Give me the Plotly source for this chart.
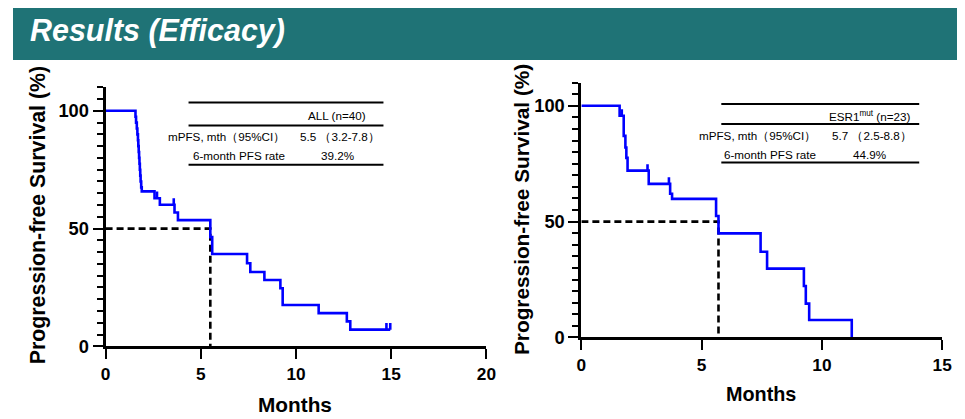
import numpy as np
import plotly.graph_objects as go

# Kaplan-Meier steps (months, % progression-free)
all_times = [1.57, 1.60, 1.64, 1.67, 1.70, 1.72, 1.74, 1.76, 1.78, 1.80, 1.82, 1.84, 1.87, 1.90,
             2.57, 2.85, 3.62, 3.80, 5.50, 5.60, 7.43, 7.60, 8.34, 9.18, 9.30, 11.19, 12.67, 12.85]
all_surv = [97.5, 95.0, 92.5, 90.0, 87.5, 85.0, 82.5, 80.0, 77.5, 75.0, 72.5, 70.0, 67.5, 65.8,
            62.9, 60.1, 56.8, 53.6, 46.4, 39.2, 35.3, 31.6, 28.2, 24.7, 17.6, 14.1, 10.6, 7.1]
all_last = 14.95
all_censor = [2.70, 3.58, 14.75, 14.95]
all_median = 5.5

esr_times = [1.59, 1.76, 1.83, 1.87, 1.92, 2.80, 3.69, 3.77, 5.60, 5.70, 7.45, 7.72,
             9.25, 9.33, 9.47, 11.24]
esr_surv = [95.7, 87.0, 82.0, 77.5, 72.0, 66.3, 62.0, 59.8, 52.4, 44.9, 37.0, 29.7,
            22.2, 14.6, 7.5, 0.0]
esr_last = 11.24
esr_censor = [1.68, 2.75, 3.64]
esr_median = 5.7

# table texts
all_table = ["ALL (n=40)", "mPFS, mth（95%CI）", "5.5 （3.2-7.8）", "6-month PFS rate", "39.2%"]
esr_table = ["ESR1<sup>mut</sup> (n=23)", "mPFS, mth（95%CI）", "5.7 （2.5-8.8）", "6-month PFS rate", "44.9%"]

# page -> photo came out slightly shrunk and shifted, so positions are given in
# photo pixels and mapped back here
PAD = 8
SX, OX = 0.985, 4.5
SY, OY = 0.978, 0.2
FW, FH = 972, 422
K = 1 / SX
FONT = "Liberation Sans, Arial, sans-serif"


def fx(p):
    return ((p - OX) / SX - PAD) / FW


def fy(p):
    return 1 - ((p - OY) / SY - PAD) / FH


def km_traces(times, surv, last, censor, median, xa, ya):
    x = [0] + list(times) + [last]
    y = [100] + list(surv) + [surv[-1]]
    curve = go.Scatter(x=x, y=y, mode="lines", line=dict(color="#0000ff", width=2.6, shape="hv"),
                       xaxis=xa, yaxis=ya, hoverinfo="skip")
    # censor ticks drawn upward from the curve level
    t = np.array([0] + list(times))
    s = np.array([100] + list(surv))
    cx, cy = [], []
    for c in censor:
        lvl = s[np.searchsorted(t, c, side="right") - 1]
        cx += [c, c, None]
        cy += [lvl, lvl + 2.8, None]
    ticks = go.Scatter(x=cx, y=cy, mode="lines", line=dict(color="#0000ff", width=2.6),
                       xaxis=xa, yaxis=ya, hoverinfo="skip")
    med = go.Scatter(x=[0, median, median], y=[50, 50, 0], mode="lines",
                     line=dict(color="black", width=2.6, dash="7px,4px"),
                     xaxis=xa, yaxis=ya, hoverinfo="skip")
    return [med, curve, ticks]


fig = go.Figure()
for tr in km_traces(all_times, all_surv, all_last, all_censor, all_median, "x", "y"):
    fig.add_trace(tr)
for tr in km_traces(esr_times, esr_surv, esr_last, esr_censor, esr_median, "x2", "y2"):
    fig.add_trace(tr)

xcommon = dict(showgrid=False, zeroline=False, showline=True, linecolor="black", linewidth=3,
               ticks="outside", ticklen=10, tickwidth=2, tickcolor="black", dtick=5, tick0=0,
               tickfont=dict(family=FONT, size=17 * K, color="black", weight="bold"))
ycommon = dict(showgrid=False, zeroline=False, showline=True, linecolor="black", linewidth=3,
               ticks="outside", ticklen=10, tickwidth=2, tickcolor="black", dtick=50, tick0=0,
               range=[0, 110],
               minor=dict(dtick=5, tick0=0, ticks="outside", ticklen=6, tickwidth=2, tickcolor="black"),
               tickfont=dict(family=FONT, size=18 * K, color="black", weight="bold"))

fig.update_layout(
    width=FW, height=FH,
    margin=dict(l=0, r=0, t=0, b=0),
    paper_bgcolor="white", plot_bgcolor="white",
    showlegend=False,
    xaxis=dict(xcommon, domain=[fx(105), fx(486)], range=[0, 20], anchor="y"),
    yaxis=dict(ycommon, domain=[fy(347), fy(87.4)], anchor="x"),
    xaxis2=dict(xcommon, domain=[fx(581), fx(942)], range=[0, 15], anchor="y2"),
    yaxis2=dict(ycommon, domain=[fy(338), fy(82.8)], anchor="x2"),
)

# header banner
fig.add_shape(type="rect", xref="paper", yref="paper", x0=0, x1=fx(963), y0=fy(60), y1=1,
              fillcolor="#1f7376", line=dict(width=0), layer="below")
fig.add_annotation(x=fx(27), y=fy(31), xref="paper", yref="paper", xanchor="left", yanchor="middle",
                   text="<b><i>Results (Efficacy)</i></b>", showarrow=False,
                   font=dict(family="Liberation Sans Narrow, Arial Narrow, Liberation Sans",
                             size=30 * K, color="white"))


def note(x, y, text, size, xanchor="center", angle=0):
    fig.add_annotation(x=fx(x), y=fy(y), xref="paper", yref="paper", xanchor=xanchor, yanchor="middle",
                       textangle=angle, text=text, showarrow=False,
                       font=dict(family=FONT, size=size * K, color="black"))


# axis titles
note(37, 216, "<b>Progression-free Survival (%)</b>", 21, angle=-90)
note(521, 210, "<b>Progression-free Survival (%)</b>", 20.5, angle=-90)
note(295, 405, "<b>Months</b>", 20.5)
note(761, 395, "<b>Months</b>", 19.5)


def add_table(texts, x0, x1, lines_y, head_xy, lab_r, val_l, row_y, rate_x):
    for ly in lines_y:
        fig.add_shape(type="line", xref="paper", yref="paper", x0=fx(x0), x1=fx(x1), y0=fy(ly), y1=fy(ly),
                      line=dict(color="black", width=2))
    note(head_xy[0], head_xy[1], texts[0], 11.5)
    note(lab_r, row_y[0], texts[1], 11.5, xanchor="right")
    note(val_l, row_y[0], texts[2], 11.5, xanchor="left")
    note(lab_r, row_y[1], texts[3], 11.5, xanchor="right")
    note(rate_x, row_y[1], texts[4], 11.5)


add_table(all_table, 188, 383, [102.7, 125.7, 165], (337, 116), 287, 298, (137, 156), 337)
add_table(esr_table, 721, 919, [104.3, 124.3, 162.7], (869, 116), 818, 830, (136, 155), 869)

fig.write_html("out.html")
